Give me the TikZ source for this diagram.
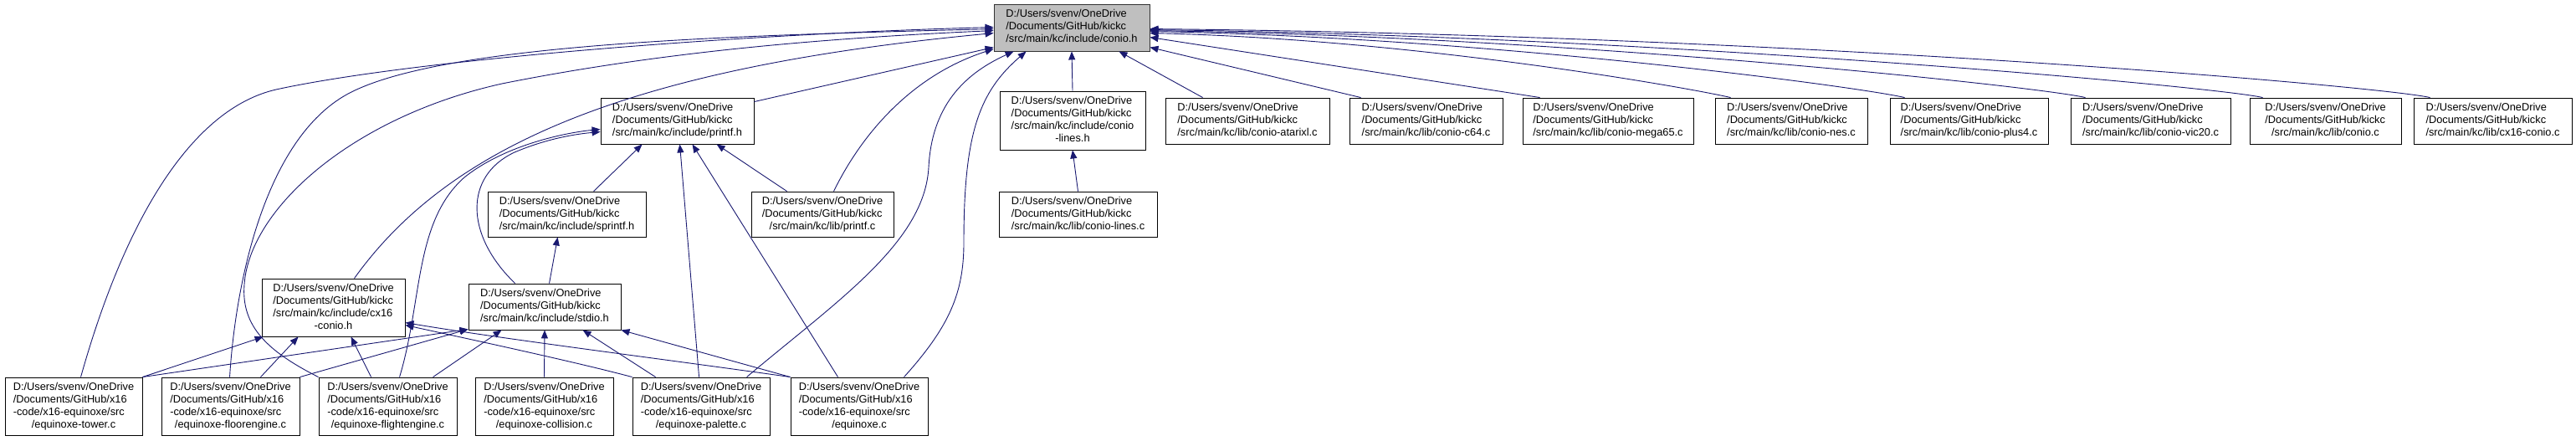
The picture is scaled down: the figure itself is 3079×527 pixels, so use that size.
\documentclass[tikz,border=0pt]{standalone}
\usepackage{fontspec}
\setmainfont{Liberation Sans}
\usetikzlibrary{arrows.meta}
\definecolor{edgeblue}{HTML}{191970}
\definecolor{nodegray}{HTML}{BFBFBF}
\newcommand\lbl[2]{\begin{tabular}{@{}l@{}}#1\\\multicolumn{1}{@{}c@{}}{#2}\end{tabular}}
\tikzset{
 box/.style={draw=black, line width=0.9pt, fill=white, inner sep=0pt, font=\fontsize{12.8}{15}\selectfont, text=black},
 edge/.style={draw=edgeblue, line width=0.9pt, -{Triangle[length=10pt,width=8pt]}},
}
\begin{document}
\begin{tikzpicture}[x=1pt,y=-1pt]
\useasboundingbox (0,0) rectangle (3079,527);
% top
\node[box, fill=nodegray, draw=black!80, minimum width=186, minimum height=56] (conio) at (1281,33) {\lbl{D:/Users/svenv/OneDrive\\/Documents/GitHub/kickc}{/src/main/kc/include/conio.h}};
% second row
\node[box, minimum width=183, minimum height=55] (printfh) at (809.5,144.5) {\lbl{D:/Users/svenv/OneDrive\\/Documents/GitHub/kickc}{/src/main/kc/include/printf.h}};
\node[box, minimum width=174, minimum height=70] (lines) at (1282,144) {\lbl{D:/Users/svenv/OneDrive\\/Documents/GitHub/kickc\\/src/main/kc/include/conio}{-lines.h}};
\node[box, minimum width=196, minimum height=55] (atarixl) at (1491,144.5) {\lbl{D:/Users/svenv/OneDrive\\/Documents/GitHub/kickc}{/src/main/kc/lib/conio-atarixl.c}};
\node[box, minimum width=183, minimum height=55] (c64) at (1704.5,144.5) {\lbl{D:/Users/svenv/OneDrive\\/Documents/GitHub/kickc}{/src/main/kc/lib/conio-c64.c}};
\node[box, minimum width=204, minimum height=55] (mega65) at (1922,144.5) {\lbl{D:/Users/svenv/OneDrive\\/Documents/GitHub/kickc}{/src/main/kc/lib/conio-mega65.c}};
\node[box, minimum width=182, minimum height=55] (nes) at (2141,144.5) {\lbl{D:/Users/svenv/OneDrive\\/Documents/GitHub/kickc}{/src/main/kc/lib/conio-nes.c}};
\node[box, minimum width=189, minimum height=55] (plus4) at (2353.5,144.5) {\lbl{D:/Users/svenv/OneDrive\\/Documents/GitHub/kickc}{/src/main/kc/lib/conio-plus4.c}};
\node[box, minimum width=191, minimum height=55] (vic20) at (2570.5,144.5) {\lbl{D:/Users/svenv/OneDrive\\/Documents/GitHub/kickc}{/src/main/kc/lib/conio-vic20.c}};
\node[box, minimum width=181, minimum height=55] (conioc) at (2779.5,144.5) {\lbl{D:/Users/svenv/OneDrive\\/Documents/GitHub/kickc}{/src/main/kc/lib/conio.c}};
\node[box, minimum width=189, minimum height=55] (cx16c) at (2979.5,144.5) {\lbl{D:/Users/svenv/OneDrive\\/Documents/GitHub/kickc}{/src/main/kc/lib/cx16-conio.c}};
% third row
\node[box, minimum width=189, minimum height=54] (sprintf) at (677.5,256) {\lbl{D:/Users/svenv/OneDrive\\/Documents/GitHub/kickc}{/src/main/kc/include/sprintf.h}};
\node[box, minimum width=170, minimum height=54] (printfc) at (983,256) {\lbl{D:/Users/svenv/OneDrive\\/Documents/GitHub/kickc}{/src/main/kc/lib/printf.c}};
\node[box, minimum width=189, minimum height=54] (linesc) at (1288.5,256) {\lbl{D:/Users/svenv/OneDrive\\/Documents/GitHub/kickc}{/src/main/kc/lib/conio-lines.c}};
% fourth row
\node[box, minimum width=171, minimum height=69] (cx16h) at (398.5,367.5) {\lbl{D:/Users/svenv/OneDrive\\/Documents/GitHub/kickc\\/src/main/kc/include/cx16}{-conio.h}};
\node[box, minimum width=182, minimum height=55] (stdio) at (651,366.5) {\lbl{D:/Users/svenv/OneDrive\\/Documents/GitHub/kickc}{/src/main/kc/include/stdio.h}};
% bottom row
\node[box, minimum width=164, minimum height=69] (tower) at (88,485.5) {\lbl{D:/Users/svenv/OneDrive\\/Documents/GitHub/x16\\-code/x16-equinoxe/src}{/equinoxe-tower.c}};
\node[box, minimum width=165, minimum height=69] (floor) at (275.5,485.5) {\lbl{D:/Users/svenv/OneDrive\\/Documents/GitHub/x16\\-code/x16-equinoxe/src}{/equinoxe-floorengine.c}};
\node[box, minimum width=165, minimum height=69] (flight) at (463.5,485.5) {\lbl{D:/Users/svenv/OneDrive\\/Documents/GitHub/x16\\-code/x16-equinoxe/src}{/equinoxe-flightengine.c}};
\node[box, minimum width=165, minimum height=69] (collision) at (650.5,485.5) {\lbl{D:/Users/svenv/OneDrive\\/Documents/GitHub/x16\\-code/x16-equinoxe/src}{/equinoxe-collision.c}};
\node[box, minimum width=164, minimum height=69] (palette) at (838,485.5) {\lbl{D:/Users/svenv/OneDrive\\/Documents/GitHub/x16\\-code/x16-equinoxe/src}{/equinoxe-palette.c}};
\node[box, minimum width=164, minimum height=69] (equinoxe) at (1027,485.5) {\lbl{D:/Users/svenv/OneDrive\\/Documents/GitHub/x16\\-code/x16-equinoxe/src}{/equinoxe.c}};

% ---- edges into conio.h ----
\draw[edge] ([xshift=91]tower.north west) .. controls (150,260) and (230,130) .. (330,107) .. controls (500,70) and (900,40) .. ([yshift=-28]conio.north west);
\draw[edge] ([xshift=82]floor.north west) .. controls (282,330) and (320,160) .. (420,110) .. controls (540,50) and (900,42) .. ([yshift=-30]conio.north west);
\draw[edge] (flight.north west) .. controls (320,420) and (288,390) .. (292,340) .. controls (298,250) and (420,140) .. (600,100) .. controls (800,60) and (1000,45) .. ([yshift=-32]conio.north west);
\draw[edge] ([xshift=111]cx16h.north west) .. controls (540,170) and (760,80) .. ([yshift=-35]conio.north west);
\draw[edge] ([yshift=-5]printfh.north east) -- ([yshift=-52]conio.north west);
\draw[edge] ([xshift=99]printfc.north west) .. controls (1030,160) and (1090,90) .. ([yshift=-54]conio.north west);
\draw[edge] ([xshift=137]palette.north west) .. controls (1000,360) and (1105,290) .. (1110,200) .. controls (1114,120) and (1160,85) .. ([xshift=24]conio.south west);
\draw[edge] ([xshift=136]equinoxe.north west) .. controls (1135,390) and (1152,350) .. (1152,290) .. controls (1152,160) and (1170,110) .. ([xshift=39]conio.south west);
\draw[edge] (lines.north) -- (conio.south);
\draw[edge] ([xshift=45]atarixl.north west) -- ([xshift=-37]conio.south east);
\draw[edge] ([xshift=14]c64.north west) -- ([yshift=-52]conio.north east);
\draw[edge] ([xshift=21]mega65.north west) -- ([yshift=-40]conio.north east);
\draw[edge] ([xshift=19]nes.north west) .. controls (2009,103) and (1687,47) .. ([yshift=-35]conio.north east);
\draw[edge] ([xshift=18]plus4.north west) .. controls (2217,103) and (1780,45) .. ([yshift=-33]conio.north east);
\draw[edge] ([xshift=18]vic20.north west) .. controls (2433,103) and (1878,44) .. ([yshift=-32]conio.north east);
\draw[edge] ([xshift=16]conioc.north west) .. controls (2645,103) and (1973,43) .. ([yshift=-31]conio.north east);
\draw[edge] ([xshift=20]cx16c.north west) .. controls (2845,103) and (2140,42) .. ([yshift=-30]conio.north east);
% ---- conio-lines.h ----
\draw[edge] (linesc.north) -- (lines.south);
% ---- printf.h ----
\draw[edge] ([xshift=127]sprintf.north west) -- ([xshift=50]printfh.south west);
\draw[edge] ([xshift=80]palette.north west) -- ([xshift=95]printfh.south west);
\draw[edge] ([xshift=57]equinoxe.north west) -- ([xshift=110]printfh.south west);
\draw[edge] ([xshift=43]printfc.north west) -- ([xshift=139]printfh.south west);
\draw[edge] ([xshift=56]stdio.north west) .. controls (555,280) and (555,210) .. (615,182) .. controls (655,165) and (690,160) .. ([yshift=-41]printfh.north west);
\draw[edge] ([xshift=97]flight.north west) .. controls (505,360) and (495,265) .. (555,212) .. controls (605,172) and (680,158) .. ([yshift=-38]printfh.north west);
% ---- sprintf.h ----
\draw[edge] ([xshift=97]stdio.north west) -- ([xshift=84]sprintf.south west);
% ---- cx16-conio.h ----
\draw[edge] (tower.north east) -- ([xshift=2]cx16h.south west);
\draw[edge] ([xshift=119]floor.north west) -- ([xshift=44]cx16h.south west);
\draw[edge] ([xshift=63]flight.north west) -- ([xshift=107]cx16h.south west);
\draw[edge] (palette.north west) .. controls (690,433) and (560,405) .. ([yshift=-56]cx16h.north east);
\draw[edge] (equinoxe.north west) .. controls (800,430) and (600,405) .. ([yshift=-53]cx16h.north east);
% ---- stdio.h ----
\draw[edge] (tower.north east) -- ([yshift=1]stdio.south west);
\draw[edge] (floor.north east) -- ([yshift=1]stdio.south west);
\draw[edge] ([xshift=137]flight.north west) -- ([xshift=40]stdio.south west);
\draw[edge] (collision.north) -- (stdio.south);
\draw[edge] ([xshift=28]palette.north west) -- ([xshift=137]stdio.south west);
\draw[edge] (equinoxe.north west) -- (stdio.south east);
\end{tikzpicture}
\end{document}
